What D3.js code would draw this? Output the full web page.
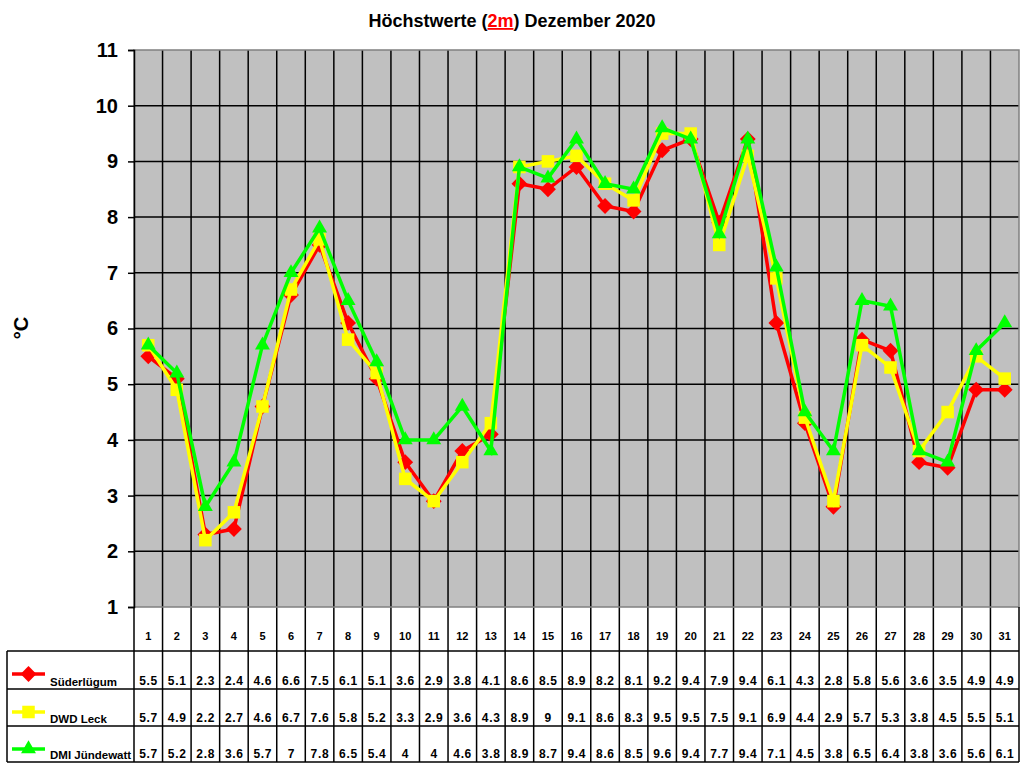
<!DOCTYPE html>
<html>
<head>
<meta charset="utf-8">
<title>Höchstwerte (2m) Dezember 2020</title>
<script src="https://cdn.jsdelivr.net/npm/d3@7"></script>
<style>
  body { margin: 0; background: #fff; }
  text { font-family: "Liberation Sans", Arial, sans-serif; font-weight: bold; }
</style>
</head>
<body>
<svg id="chart" width="1024" height="768"></svg>
<script>
var days = d3.range(1, 32)
var yTicks = [1, 2, 3, 4, 5, 6, 7, 8, 9, 10, 11]

var suederluegum = [5.5, 5.1, 2.3, 2.4, 4.6, 6.6, 7.5, 6.1, 5.1, 3.6, 2.9, 3.8, 4.1, 8.6, 8.5, 8.9,
  8.2, 8.1, 9.2, 9.4, 7.9, 9.4, 6.1, 4.3, 2.8, 5.8, 5.6, 3.6, 3.5, 4.9, 4.9]
var dwdLeck = [5.7, 4.9, 2.2, 2.7, 4.6, 6.7, 7.6, 5.8, 5.2, 3.3, 2.9, 3.6, 4.3, 8.9, 9, 9.1,
  8.6, 8.3, 9.5, 9.5, 7.5, 9.1, 6.9, 4.4, 2.9, 5.7, 5.3, 3.8, 4.5, 5.5, 5.1]
var dmiJuendewatt = [5.7, 5.2, 2.8, 3.6, 5.7, 7, 7.8, 6.5, 5.4, 4, 4, 4.6, 3.8, 8.9, 8.7, 9.4,
  8.6, 8.5, 9.6, 9.4, 7.7, 9.4, 7.1, 4.5, 3.8, 6.5, 6.4, 3.8, 3.6, 5.6, 6.1]

var series = [
  { name: 'Süderlügum', values: suederluegum, color: '#ff0000', symbol: d3.symbolDiamond2, size: 160 },
  { name: 'DWD Leck', values: dwdLeck, color: '#ffff00', symbol: d3.symbolSquare2, size: 200 },
  { name: 'DMI Jündewatt', values: dmiJuendewatt, color: '#00ff00', symbol: d3.symbolTriangle2, size: 160 }
]

var svg = d3.select('#chart')
  , plotLeft = 134, plotRight = 1019, plotTop = 50, plotBottom = 607
  , tableLeft = 7
  , rowEdges = [607, 651, 689, 726, 762]

var x = d3.scaleBand().domain(days).range([plotLeft, plotRight])
var y = d3.scaleLinear().domain([1, 11]).range([plotBottom, plotTop])
var cx = function (i) { return x(days[i]) + x.bandwidth() / 2 }

// title
var title = svg.append('text')
  .attr('x', 512).attr('y', 27)
  .attr('text-anchor', 'middle')
  .attr('font-size', 18)
title.append('tspan').text('Höchstwerte (')
title.append('tspan').attr('fill', '#ff0000').attr('text-decoration', 'underline').text('2m')
title.append('tspan').text(') Dezember 2020')

// plot background
svg.append('rect')
  .attr('x', plotLeft).attr('y', plotTop)
  .attr('width', plotRight - plotLeft).attr('height', plotBottom - plotTop)
  .attr('fill', '#c0c0c0')

// grid
svg.append('g').selectAll('line').data(yTicks.slice(1, -1)).join('line')
  .attr('x1', plotLeft).attr('x2', plotRight)
  .attr('y1', d => y(d)).attr('y2', d => y(d))
  .attr('stroke', '#000').attr('stroke-width', 1.5)

svg.append('g').selectAll('line').data(days.slice(1)).join('line')
  .attr('x1', d => x(d)).attr('x2', d => x(d))
  .attr('y1', plotTop).attr('y2', rowEdges[4])
  .attr('stroke', '#000').attr('stroke-width', 1.5)

// plot border
svg.append('rect')
  .attr('x', plotLeft).attr('y', plotTop)
  .attr('width', plotRight - plotLeft).attr('height', plotBottom - plotTop)
  .attr('fill', 'none').attr('stroke', '#808080').attr('stroke-width', 1.5)

// y axis
var yAxis = svg.append('g')
  .attr('transform', 'translate(' + plotLeft + ',0)')
  .call(d3.axisLeft(y).tickValues(yTicks).tickSize(6).tickPadding(10).tickFormat(d3.format('d')))
yAxis.select('.domain').attr('stroke', '#000').attr('stroke-width', 1.5)
yAxis.selectAll('.tick line').attr('stroke-width', 1.5)
yAxis.selectAll('text').attr('font-size', 20).attr('font-family', '"Liberation Sans", Arial, sans-serif')
  .attr('font-weight', 'bold').attr('fill', '#000')

svg.append('text')
  .attr('transform', 'translate(28,328) rotate(-90)')
  .attr('text-anchor', 'middle')
  .attr('font-size', 20)
  .text('°C')

// lines and markers
var line = d3.line()
  .x((d, i) => cx(i))
  .y(d => y(d))

series.forEach(function (s) {
  var g = svg.append('g')
  g.append('path')
    .datum(s.values)
    .attr('d', line)
    .attr('fill', 'none')
    .attr('stroke', s.color)
    .attr('stroke-width', 3.5)
  g.selectAll('path.mark').data(s.values).join('path')
    .attr('class', 'mark')
    .attr('transform', (d, i) => 'translate(' + cx(i) + ',' + y(d) + ')')
    .attr('d', d3.symbol().type(s.symbol).size(s.size))
    .attr('fill', s.color)
})

// data table
var table = svg.append('g')
table.selectAll('line.h').data(rowEdges.slice(1)).join('line')
  .attr('class', 'h')
  .attr('x1', tableLeft).attr('x2', plotRight)
  .attr('y1', d => d).attr('y2', d => d)
  .attr('stroke', '#000').attr('stroke-width', 1.5)
table.append('line')
  .attr('x1', tableLeft).attr('x2', tableLeft)
  .attr('y1', rowEdges[1]).attr('y2', rowEdges[4])
  .attr('stroke', '#000').attr('stroke-width', 1.5)
table.append('line')
  .attr('x1', plotLeft).attr('x2', plotLeft)
  .attr('y1', plotBottom).attr('y2', rowEdges[4])
  .attr('stroke', '#000').attr('stroke-width', 1.5)
table.append('line')
  .attr('x1', plotRight).attr('x2', plotRight)
  .attr('y1', plotBottom).attr('y2', rowEdges[4])
  .attr('stroke', '#000').attr('stroke-width', 1.5)

table.selectAll('text.day').data(days).join('text')
  .attr('class', 'day')
  .attr('x', d => x(d) + x.bandwidth() / 2)
  .attr('y', 640)
  .attr('text-anchor', 'middle')
  .attr('font-size', 11)
  .text(d => d)

series.forEach(function (s, r) {
  var base = rowEdges[r + 2] - 4
  table.selectAll('text.v' + r).data(s.values).join('text')
    .attr('class', 'v' + r)
    .attr('x', (d, i) => cx(i))
    .attr('y', base)
    .attr('text-anchor', 'middle')
    .attr('font-size', 12)
    .attr('textLength', d => String(d).length > 1 ? 18 : null)
    .text(d => d)

  var ly = rowEdges[r + 1] + 23
  table.append('line')
    .attr('x1', 12).attr('x2', 45)
    .attr('y1', ly).attr('y2', ly)
    .attr('stroke', s.color).attr('stroke-width', 3.5)
  table.append('path')
    .attr('transform', 'translate(28.5,' + ly + ')')
    .attr('d', d3.symbol().type(s.symbol).size(s.size))
    .attr('fill', s.color)
  table.append('text')
    .attr('x', 50).attr('y', base + 1)
    .attr('font-size', 11.5)
    .text(s.name)
})
</script>
</body>
</html>
